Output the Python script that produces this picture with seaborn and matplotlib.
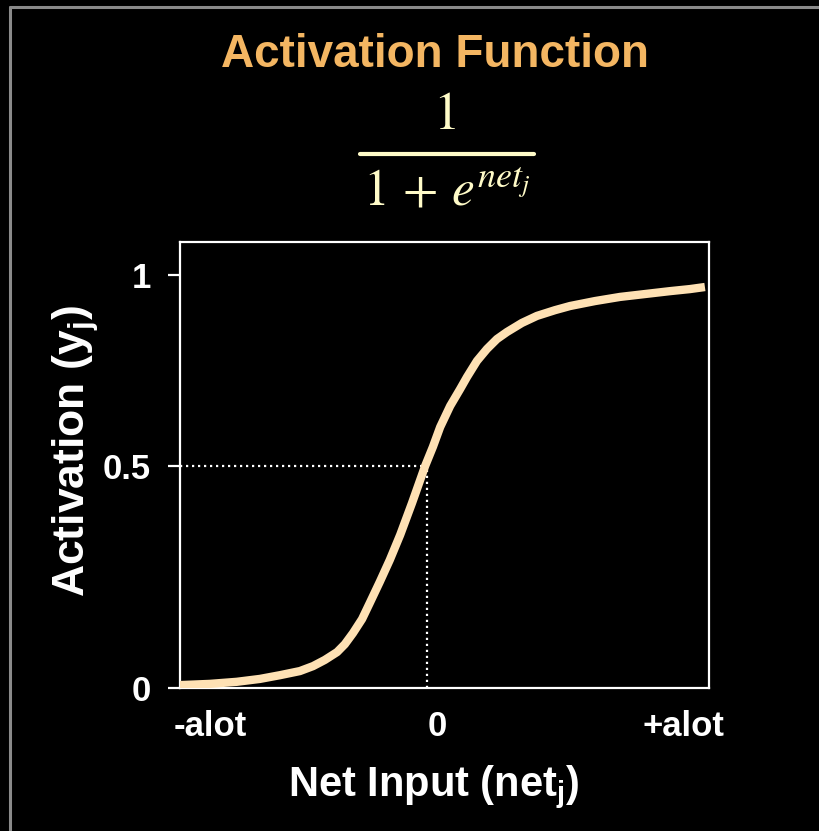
import matplotlib
matplotlib.use("Agg")
import matplotlib.pyplot as plt
from matplotlib.lines import Line2D
import seaborn as sns
import pandas as pd

# Sigmoid-shaped activation curve
net_input = [-5.66, -5.00, -4.41, -3.90, -3.46, -3.02, -2.73, -2.47, -2.20, -2.03,
             -1.85, -1.65, -1.48, -1.26, -1.04, -0.81, -0.55, -0.26, -0.09, 0.07,
             0.29, 0.51, 0.66, 0.88, 1.10, 1.32, 1.54, 1.87, 2.20, 2.60,
             2.93, 3.48, 4.03, 4.58, 5.13, 5.57, 5.90]
activation = [0.007, 0.010, 0.015, 0.022, 0.031, 0.041, 0.053, 0.068, 0.087, 0.106,
              0.133, 0.167, 0.206, 0.257, 0.310, 0.371, 0.448, 0.538, 0.584, 0.632,
              0.683, 0.724, 0.753, 0.792, 0.821, 0.845, 0.862, 0.884, 0.901, 0.915,
              0.925, 0.937, 0.947, 0.954, 0.961, 0.966, 0.971]

# Midpoint marked by the dotted guides
mid_net = -0.22
mid_act = 0.537

x_ticks = [-5.0, 0.0, 5.42]
x_tick_labels = ["-alot", "0", "+alot"]
y_ticks = [0.0, 0.537, 1.0]
y_tick_labels = ["0", "0.5", "1"]

df = pd.DataFrame({"net": net_input, "act": activation})

sns.set_theme(style="ticks")
plt.rcParams["font.family"] = ["Liberation Sans", "DejaVu Sans"]
plt.rcParams["mathtext.fontset"] = "custom"
plt.rcParams["mathtext.rm"] = "Liberation Sans:bold"
plt.rcParams["mathtext.it"] = "Liberation Sans:bold"
plt.rcParams["mathtext.bf"] = "Liberation Sans:bold"

fig = plt.figure(figsize=(8.19, 8.31), dpi=100, facecolor="black")
ax = fig.add_axes([180 / 819, 1 - 688 / 831, 529 / 819, 446 / 831])
ax.set_facecolor("black")

# Dotted guides to the midpoint
guide = dict(color="white", lw=1.6, linestyle=(0, (1, 1.7)), zorder=2)
ax.plot([-5.66, mid_net], [mid_act, mid_act], **guide)
ax.plot([mid_net, mid_net], [0, mid_act], **guide)

sns.lineplot(data=df, x="net", y="act", ax=ax, color="#FEE1B4", lw=6,
             solid_capstyle="butt", solid_joinstyle="round", zorder=3, sort=False)

ax.set_xlim(-5.66, 5.99)
ax.set_ylim(0, 1.080)

for s in ax.spines.values():
    s.set_color("white")
    s.set_linewidth(1.6)

ax.set_xticks(x_ticks)
ax.set_xticklabels(x_tick_labels, fontsize=25, fontweight="bold", color="white")
ax.set_yticks(y_ticks)
ax.set_yticklabels(y_tick_labels, fontsize=25, fontweight="bold", color="white")
ax.tick_params(axis="x", length=0, pad=16)
ax.tick_params(axis="y", length=9, width=1.6, color="white", pad=12)

ax.set_xlabel(r"Net Input (net$_{\mathrm{j}}$)", fontsize=30, fontweight="bold",
              color="white", va="center")
ax.set_ylabel(r"Activation (y$_{\mathrm{j}}$)", fontsize=32, fontweight="bold",
              color="white", va="center")
ax.xaxis.set_label_coords(0.48, -0.222)
ax.yaxis.set_label_coords(-0.197, 0.531)

# Title and formula
fig.text(435 / 819, 1 - 55 / 831, "Activation Function", ha="center", va="center",
         fontsize=33, fontweight="bold", color="#F4B662")
fig.text(446 / 819, 1 - 116 / 831, "1", ha="center", va="center",
         fontsize=38, color="#FFFBC8", family="STIXGeneral")
fig.add_artist(Line2D([360 / 819, 534 / 819], [1 - 154 / 831, 1 - 154 / 831],
                      transform=fig.transFigure, color="#FFFBC8", lw=3))
fig.text(447 / 819, 1 - 205 / 831, r"$1\,+\,e^{net_j}$", ha="center", va="baseline",
         fontsize=37, color="#FFFBC8", math_fontfamily="stix")

# Gray frame along the top and left edges
frame = dict(transform=fig.transFigure, color="#8A8A8A", lw=2.2)
fig.add_artist(Line2D([9.5 / 819, 1.0], [1 - 7 / 831, 1 - 7 / 831], **frame))
fig.add_artist(Line2D([9.5 / 819, 9.5 / 819], [0.0, 1 - 7 / 831], **frame))

fig.savefig("out.png", dpi=100, facecolor="black")
